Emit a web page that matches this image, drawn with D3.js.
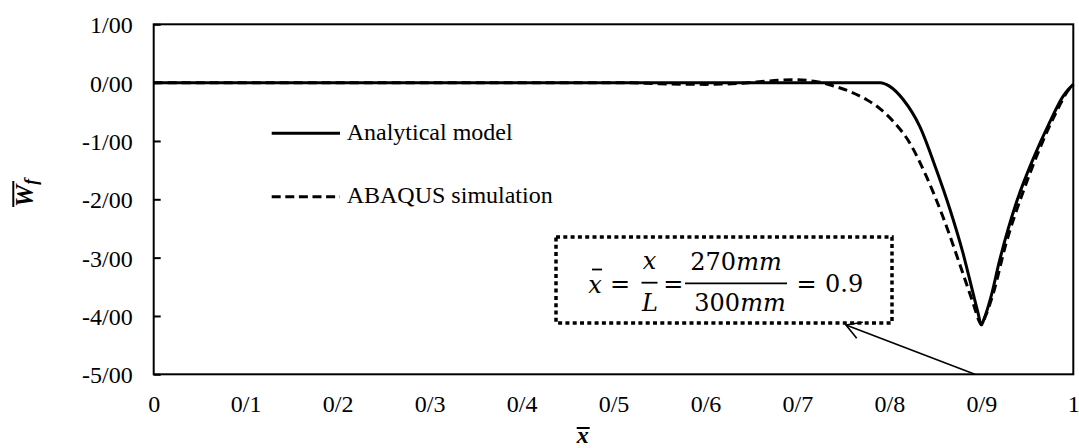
<!DOCTYPE html>
<html>
<head>
<meta charset="utf-8">
<script src="https://cdn.jsdelivr.net/npm/d3@7/dist/d3.min.js"></script>
<style>
  html, body { margin: 0; padding: 0; background: #fff; }
  svg { display: block; }
  text { fill: #000; }
</style>
</head>
<body>
<svg id="chart" width="1079" height="448"></svg>
<script>
// Normalised deflection along the beam: analytical solution vs. FE result
const analyticalX = [0, 0.2, 0.4, 0.6, 0.79, 0.80, 0.815, 0.833, 0.851, 0.866, 0.880, 0.891, 0.896, 0.900, 0.903, 0.910, 0.920, 0.938, 0.956, 0.974, 0.989, 1.0];
const analyticalW = [0, 0, 0, 0, 0, -0.06, -0.29, -0.75, -1.49, -2.18, -2.92, -3.61, -3.92, -4.15, -4.05, -3.70, -3.04, -2.06, -1.32, -0.69, -0.23, -0.03];

const abaqusX = [0, 0.2, 0.4, 0.515, 0.55, 0.60, 0.64, 0.67, 0.695, 0.72, 0.74, 0.755, 0.775, 0.79, 0.804, 0.822, 0.840, 0.858, 0.876, 0.891, 0.898, 0.900, 0.904, 0.913, 0.927, 0.945, 0.963, 0.981, 0.995, 1.0];
const abaqusW = [0, 0, 0, 0, -0.02, -0.03, -0.01, 0.03, 0.05, 0.02, -0.06, -0.14, -0.29, -0.45, -0.66, -1.03, -1.60, -2.29, -3.09, -3.78, -4.10, -4.15, -4.02, -3.61, -2.75, -1.89, -1.15, -0.52, -0.12, -0.03];

const xTicks = [0, 0.1, 0.2, 0.3, 0.4, 0.5, 0.6, 0.7, 0.8, 0.9, 1];
const xTickLabels = ["0", "0/1", "0/2", "0/3", "0/4", "0/5", "0/6", "0/7", "0/8", "0/9", "1"];
const yTicks = [1, 0, -1, -2, -3, -4, -5];
const yTickLabels = ["1/00", "0/00", "-1/00", "-2/00", "-3/00", "-4/00", "-5/00"];

const seriesNames = ["Analytical model", "ABAQUS simulation"];

const svg = d3.select("#chart");
const plot = { left: 153.7, right: 1073.3, top: 24.3, bottom: 374.3 };
const serif = "'Liberation Serif', 'Times New Roman', serif";
const labelSize = "24px";

const x = d3.scaleLinear().domain([0, 1]).range([plot.left, plot.right]);
const y = d3.scaleLinear().domain([-5, 1]).range([plot.bottom, plot.top]);

// Axes
const yAxis = d3.axisLeft(y)
  .tickValues(yTicks)
  .tickFormat((d, i) => yTickLabels[i])
  .tickSizeInner(-7)
  .tickSizeOuter(0)
  .tickPadding(21);
const gy = svg.append("g").attr("transform", `translate(${plot.left},0)`).call(yAxis);
gy.select(".domain").remove();
gy.selectAll("line").attr("stroke", "#000").attr("stroke-width", 2);
gy.selectAll("text")
  .style("font-family", serif).style("font-size", labelSize)
  .attr("dy", "0.35em");

const xAxis = d3.axisBottom(x)
  .tickValues(xTicks)
  .tickFormat((d, i) => xTickLabels[i])
  .tickSize(0);
const gx = svg.append("g").attr("transform", `translate(0,${plot.bottom})`).call(xAxis);
gx.select(".domain").remove();
gx.selectAll("text")
  .style("font-family", serif).style("font-size", labelSize)
  .attr("y", 38).attr("dy", null);

// Plot frame
svg.append("rect")
  .attr("x", plot.left).attr("y", plot.top)
  .attr("width", plot.right - plot.left).attr("height", plot.bottom - plot.top)
  .attr("fill", "none").attr("stroke", "#000").attr("stroke-width", 2);

// Series
const line = d3.line()
  .x(d => x(d[0]))
  .y(d => y(d[1]))
  .curve(d3.curveMonotoneX);

svg.append("path")
  .datum(abaqusX.map((v, i) => [v, abaqusW[i]]))
  .attr("d", line)
  .attr("fill", "none").attr("stroke", "#000").attr("stroke-width", 3)
  .attr("stroke-dasharray", "9,5");

svg.append("path")
  .datum(analyticalX.map((v, i) => [v, analyticalW[i]]))
  .attr("d", line)
  .attr("fill", "none").attr("stroke", "#000").attr("stroke-width", 3)
  .attr("stroke-linejoin", "round");

// Legend
const legend = svg.append("g").style("font-family", serif).style("font-size", labelSize);
legend.append("line").attr("x1", 271.7).attr("x2", 340).attr("y1", 133.3).attr("y2", 133.3)
  .attr("stroke", "#000").attr("stroke-width", 3);
legend.append("text").attr("x", 346.7).attr("y", 140).text(seriesNames[0]);
legend.append("line").attr("x1", 271.7).attr("x2", 340).attr("y1", 196.7).attr("y2", 196.7)
  .attr("stroke", "#000").attr("stroke-width", 3).attr("stroke-dasharray", "9,4.6");
legend.append("text").attr("x", 346.7).attr("y", 203).text(seriesNames[1]);

// Axis titles
const xt = svg.append("g").attr("transform", "translate(582.7,443)");
xt.append("text").attr("text-anchor", "middle")
  .style("font-family", serif).style("font-size", "24px")
  .style("font-weight", "bold").style("font-style", "italic").text("x");
xt.append("line").attr("x1", -6).attr("x2", 7).attr("y1", -15).attr("y2", -15)
  .attr("stroke", "#000").attr("stroke-width", 2);

const yt = svg.append("g").attr("transform", "translate(33,207) rotate(-90)");
const ytText = yt.append("text")
  .style("font-family", serif).style("font-size", "25px")
  .style("font-weight", "bold").style("font-style", "italic");
ytText.append("tspan").text("W");
ytText.append("tspan").attr("dy", 4).style("font-size", "18px").text("f");
yt.append("line").attr("x1", 0).attr("x2", 26).attr("y1", -19.7).attr("y2", -19.7)
  .attr("stroke", "#000").attr("stroke-width", 2);

// Annotation: position of the load, x/L = 0.9
const box = { x0: 556, x1: 892, y0: 237, y1: 323 };
svg.append("rect")
  .attr("x", box.x0).attr("y", box.y0)
  .attr("width", box.x1 - box.x0).attr("height", box.y1 - box.y0)
  .attr("fill", "none").attr("stroke", "#000").attr("stroke-width", 3.5)
  .attr("stroke-dasharray", "4,3.3");

const mf = "'DejaVu Serif', serif";
const eq = svg.append("g").style("font-family", mf).style("font-size", "24px");
function t(xp, yp, s, italic, anchor) {
  eq.append("text").attr("x", xp).attr("y", yp)
    .attr("text-anchor", anchor || "start")
    .style("font-style", italic ? "italic" : "normal").text(s);
}
function bar(x1, x2, yp) {
  eq.append("line").attr("x1", x1).attr("x2", x2).attr("y1", yp).attr("y2", yp)
    .attr("stroke", "#000").attr("stroke-width", 1.8);
}
t(595, 293, "x", true, "middle");
bar(592, 602, 269.5);
t(620, 292, "=", false, "middle");
t(649.5, 269, "x", true, "middle");
bar(641.5, 657.5, 282.7);
t(650, 311, "L", true, "middle");
t(673.3, 292, "=", false, "middle");
eq.append("text").attr("x", 736).attr("y", 270).attr("text-anchor", "middle")
  .call(s => { s.append("tspan").text("270"); s.append("tspan").style("font-style", "italic").text("mm"); });
bar(685, 787, 283.3);
eq.append("text").attr("x", 740).attr("y", 311).attr("text-anchor", "middle")
  .call(s => { s.append("tspan").text("300"); s.append("tspan").style("font-style", "italic").text("mm"); });
t(806.5, 292, "=", false, "middle");
t(825, 291.7, "0.9", false, "start");

// Leader arrow from the load position to the note
const tail = [x(0.893), plot.bottom];
const tip = [846, 325];
svg.append("line")
  .attr("x1", tail[0]).attr("y1", tail[1]).attr("x2", tip[0]).attr("y2", tip[1])
  .attr("stroke", "#000").attr("stroke-width", 1.6);
const ang = Math.atan2(tail[1] - tip[1], tail[0] - tip[0]);
const armLen = 17, spread = Math.PI / 6;
svg.append("path")
  .attr("d", `M${tip[0] + armLen * Math.cos(ang + spread)},${tip[1] + armLen * Math.sin(ang + spread)}` +
             `L${tip[0]},${tip[1]}` +
             `L${tip[0] + armLen * Math.cos(ang - spread)},${tip[1] + armLen * Math.sin(ang - spread)}`)
  .attr("fill", "none").attr("stroke", "#000").attr("stroke-width", 1.6);
</script>
</body>
</html>
